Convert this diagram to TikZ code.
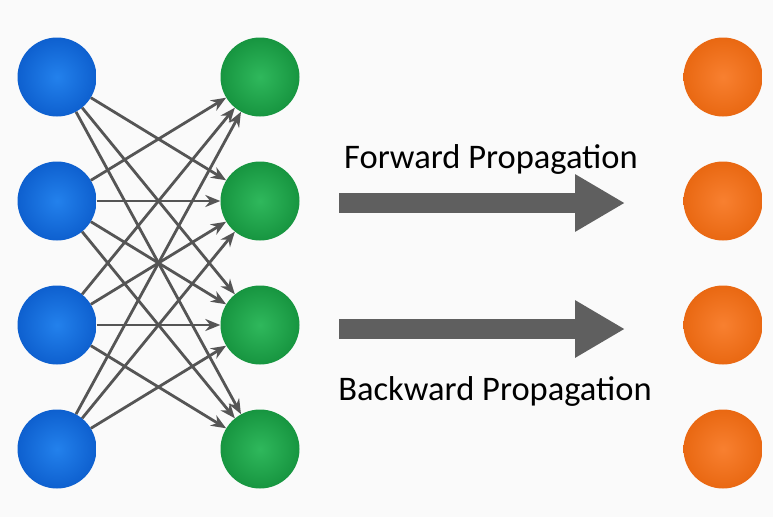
\documentclass[tikz,border=0pt]{standalone}
\usepackage{fontspec}
\setmainfont{Carlito}
\usetikzlibrary{arrows.meta}
\definecolor{bgcol}{HTML}{FAFAFA}
\definecolor{blueA}{HTML}{2381EC}
\definecolor{blueB}{HTML}{0E60CF}
\definecolor{greenA}{HTML}{2FB85C}
\definecolor{greenB}{HTML}{179540}
\definecolor{orA}{HTML}{F88030}
\definecolor{orB}{HTML}{E96812}
\definecolor{edgecol}{HTML}{555555}
\definecolor{arrowcol}{HTML}{5F5F5F}
\begin{document}
\begin{tikzpicture}[x=1pt,y=-1pt,
  neuron/.style={circle,minimum size=79pt,inner sep=0pt},
  bluen/.style={neuron,inner color=blueA,outer color=blueB},
  greenn/.style={neuron,inner color=greenA,outer color=greenB},
  orangen/.style={neuron,inner color=orA,outer color=orB},
  edge/.style={draw=edgecol,line width=2.8pt,-{Stealth[length=15pt,width=12pt]}},
  bigarrow/.style={draw=arrowcol,line width=20pt,-{Triangle[length=50pt,width=54pt]}},
  label/.style={anchor=base,font=\fontsize{34.5}{38}\selectfont,text=black}]
\fill[bgcol] (0,0) rectangle (773,517);
\useasboundingbox (0,0) rectangle (773,517);
\foreach \i/\y in {1/77,2/201,3/325,4/449}{
  \node[bluen] (b\i) at (57,\y) {};
  \node[greenn] (g\i) at (260,\y) {};
  \node[orangen] (o\i) at (723,\y) {};
}
\foreach \s/\t in {1/2,1/3,1/4,2/1,2/2,2/3,2/4,3/1,3/2,3/3,3/4,4/1,4/2,4/3}{
  \draw[edge] (b\s) -- (g\t);
}
\coordinate (fs) at (339,203);
\coordinate (fe) at (625,203);
\coordinate (bs) at (339,329);
\coordinate (be) at (625,329);
\draw[bigarrow] (fs) -- (fe);
\draw[bigarrow] (bs) -- (be);
\node[label] (ft) at (491,168) {Forward Propagation};
\node[label] (bt) at (495,400) {Backward Propagation};
\end{tikzpicture}
\end{document}
